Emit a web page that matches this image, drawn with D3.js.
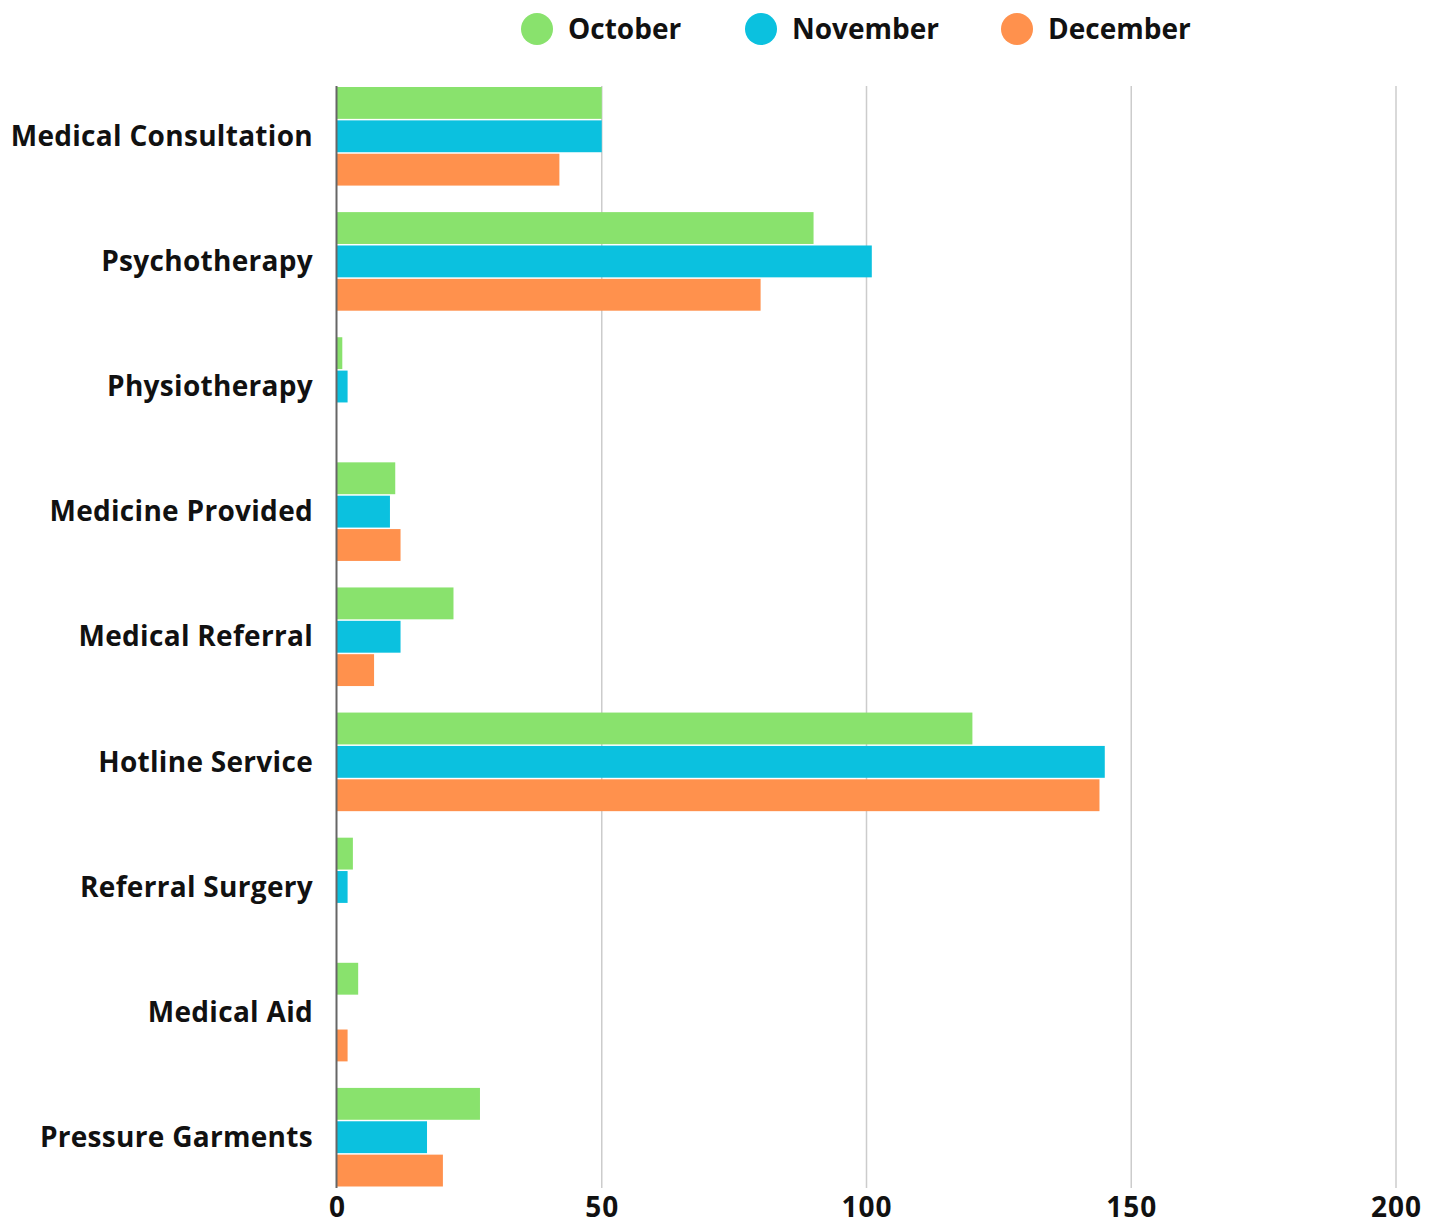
<!DOCTYPE html>
<html>
<head>
<meta charset="utf-8">
<script src="https://cdn.jsdelivr.net/npm/d3@7"></script>
<style>
  body { margin: 0; background: #fff; }
  text { font-family: "Open Sans", Lato, sans-serif; font-weight: 700; fill: #111; }
</style>
</head>
<body>
<svg id="figure"></svg>
<script>
var fullWidth = 1442;
var fullHeight = 1230;

var categories = ["Medical Consultation", "Psychotherapy", "Physiotherapy", "Medicine Provided",
    "Medical Referral", "Hotline Service", "Referral Surgery", "Medical Aid", "Pressure Garments"];
var seriesNames = ["October", "November", "December"];
var october  = [50, 90, 1, 11, 22, 120, 3, 4, 27];
var november = [50, 101, 2, 10, 12, 145, 2, 0, 17];
var december = [42, 80, 0, 12, 7, 144, 0, 2, 20];
var xTicks = [0, 50, 100, 150, 200];
var colors = ["#89e26d", "#0bc1df", "#ff914d"];

var seriesValues = [october, november, december];

var svg = d3.select("#figure")
    .attr("width", fullWidth)
    .attr("height", fullHeight);

var xRange = d3.scaleLinear().domain([0, 200]).range([337, 1396]);
var yRange = d3.scaleBand().domain(categories).range([87, 1188]).paddingInner(0.2).paddingOuter(0);
var subRange = d3.scaleBand().domain(seriesNames).range([0, yRange.bandwidth()]);

// grid lines
svg.append("g").selectAll("line")
    .data(xTicks.slice(1))
    .enter().append("line")
    .attr("x1", function (d) { return xRange(d); })
    .attr("x2", function (d) { return xRange(d); })
    .attr("y1", 86)
    .attr("y2", 1188)
    .attr("stroke", "#cccccc")
    .attr("stroke-width", 1.5);

// bars
var groups = svg.append("g").selectAll("g")
    .data(categories)
    .enter().append("g")
    .attr("transform", function (d) { return "translate(0," + yRange(d) + ")"; });

groups.selectAll("rect")
    .data(function (d, i) {
        return seriesNames.map(function (s, j) { return {name: s, value: seriesValues[j][i], idx: j}; });
    })
    .enter().append("rect")
    .attr("x", xRange(0))
    .attr("y", function (d) { return subRange(d.name); })
    .attr("height", subRange.bandwidth() - 1.5)
    .attr("width", function (d) { return xRange(d.value) - xRange(0); })
    .attr("fill", function (d) { return colors[d.idx]; });

// axis line
svg.append("line")
    .attr("x1", xRange(0) - 0.5).attr("x2", xRange(0) - 0.5)
    .attr("y1", 86).attr("y2", 1188)
    .attr("stroke", "#666666")
    .attr("stroke-width", 2);

// category labels
var yAxis = d3.axisLeft(yRange).tickSize(0).tickPadding(0);
var yg = svg.append("g").attr("transform", "translate(313,0)").call(yAxis);
yg.select(".domain").remove();
yg.selectAll("text")
    .attr("font-size", 28)
    .attr("letter-spacing", 0.3)
    .attr("font-family", "'Open Sans', sans-serif")
    .attr("font-weight", 700)
    .attr("fill", "#111");

// x tick labels
var xAxis = d3.axisBottom(xRange).tickValues(xTicks).tickSize(0).tickPadding(0);
var xg = svg.append("g").attr("transform", "translate(0,1197)").call(xAxis);
xg.select(".domain").remove();
xg.selectAll("text")
    .attr("font-size", 28)
    .attr("letter-spacing", 1)
    .attr("font-family", "'Open Sans', sans-serif")
    .attr("font-weight", 700)
    .attr("fill", "#111");

// legend
var legendX = [537, 761, 1017];
var legend = svg.append("g").selectAll("g")
    .data(seriesNames)
    .enter().append("g")
    .attr("transform", function (d, i) { return "translate(" + legendX[i] + ",29)"; });
legend.append("circle").attr("r", 16).attr("fill", function (d, i) { return colors[i]; });
legend.append("text")
    .attr("x", 31)
    .attr("dy", "0.35em")
    .attr("font-size", 28)
    .text(function (d) { return d; });
</script>
</body>
</html>
